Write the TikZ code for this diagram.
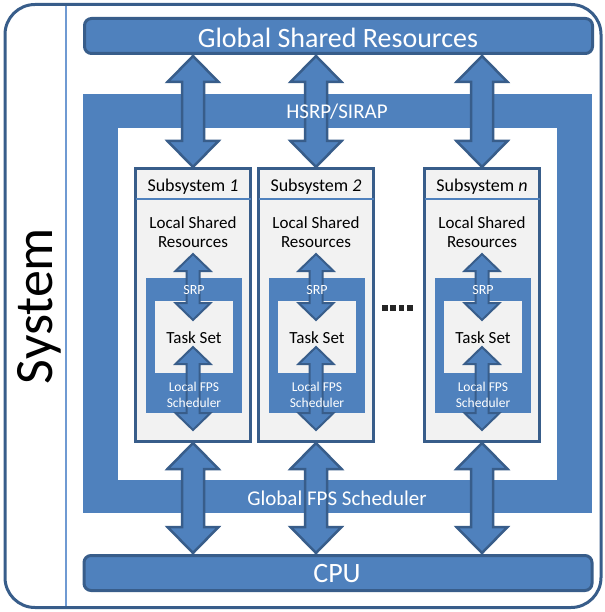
\documentclass[tikz,border=0pt]{standalone}
\usepackage{fontspec}
\setmainfont{Carlito}
\usetikzlibrary{calc}

\definecolor{boxblue}{HTML}{4F81BD}
\definecolor{edgeblue}{HTML}{385D8A}
\definecolor{panel}{HTML}{F2F2F2}
\definecolor{sysrule}{HTML}{6F9AD2}

\newcommand\fsz[2]{\fontsize{#1pt}{#2pt}\selectfont}

\tikzset{
  bar/.style={draw=edgeblue, line width=3pt, fill=boxblue, rounded corners=7pt,
    inner sep=0pt, minimum width=508pt, minimum height=35pt},
  band/.style={fill=boxblue, draw=none, inner sep=0pt},
  hole/.style={fill=white, draw=none, inner sep=0pt},
  subbox/.style={draw=edgeblue, line width=3pt, fill=panel, inner sep=0pt,
    minimum width=115pt, minimum height=273pt},
  tasks/.style={fill=panel, draw=none, inner sep=0pt, minimum width=78pt, minimum height=72pt},
  srpband/.style={band, minimum width=96pt, minimum height=135pt},
  headrule/.style={draw=boxblue, line width=1.5pt},
  bigarrow/.style={draw=edgeblue, fill=boxblue, line width=2.5pt, line join=miter},
  smallarrow/.style={draw=edgeblue, fill=boxblue, line width=2pt, line join=miter},
  wlabel/.style={text=white, inner sep=0pt},
  dlabel/.style={text=black, inner sep=0pt},
}

% two-headed block arrow between an upper and a lower tip
% #1 upper tip, #2 lower tip, #3 half shaft, #4 half head, #5 head length, #6 style
\newcommand\twoway[6]{%
  \path[#6] let \p1=(#1), \p2=(#2) in
    (\x1,\y1) -- (\x1+#4,\y1-#5) -- (\x1+#3,\y1-#5) -- (\x1+#3,\y2+#5)
    -- (\x1+#4,\y2+#5) -- (\x1,\y2) -- (\x1-#4,\y2+#5) -- (\x1-#3,\y2+#5)
    -- (\x1-#3,\y1-#5) -- (\x1-#4,\y1-#5) -- cycle;}

\begin{document}
\begin{tikzpicture}[x=1pt,y=-1pt]
\useasboundingbox (0,0) rectangle (604,612);

% system frame
\draw[draw=edgeblue, line width=3pt, rounded corners=30pt] (5,4.5) rectangle (601,607.5);
\coordinate (railtop) at (66,6);
\coordinate (railbot) at (66,606);
\draw[draw=sysrule, line width=1.5pt] (railtop) -- (railbot);
\node[dlabel, rotate=90, anchor=base, font=\fsz{54}{60}] (sys) at (52,306) {System};

% global resources and CPU
\node[bar] (gsr) at (338.5,36) {};
\node[wlabel, font=\fsz{28}{30}] (gsrtext) at (338,38) {Global Shared Resources};
\node[bar] (cpu) at (338,573) {};
\node[wlabel, font=\fsz{28}{30}] (cputext) at (337,574) {CPU};

% HSRP/SIRAP and global scheduler frame
\node[band, minimum width=509pt, minimum height=419pt] (hsrp) at (337.5,303.5) {};
\node[hole, minimum width=439pt, minimum height=352pt] (arena) at (337.5,304) {};

% subsystems
\foreach \s/\cx/\lab in {s1/193/1, s2/316/2, sn/482/n} {
  \node[subbox] (\s) at (\cx,305) {};
  \draw[headrule] ($(\s.north west)+(1.5,32)$) -- ($(\s.north east)+(-1.5,32)$);
  \node[dlabel, font=\fsz{18}{20}] (\s-title) at (\cx,187) {Subsystem \textit{\lab}};
  \node[dlabel, font=\fsz{17}{19.5}, align=center] (\s-lsr) at (\cx,232) {Local Shared\\Resources};
  \node[srpband] (\s-srp) at (\cx+1,345.5) {};
  \node[tasks] (\s-ts) at (\cx+1,337) {};
  \coordinate (\s-a) at (\cx,254);
  \coordinate (\s-b) at (\cx,320);
  \coordinate (\s-c) at (\cx,347);
  \coordinate (\s-d) at (\cx,430);
  \twoway{\s-a}{\s-b}{6.5pt}{17.5pt}{17pt}{smallarrow}
  \twoway{\s-c}{\s-d}{6.5pt}{17.5pt}{17pt}{smallarrow}
  \node[wlabel, font=\fsz{14}{16}] (\s-srptext) at (\cx+1,290) {SRP};
  \node[dlabel, font=\fsz{17}{19}] (\s-tstext) at (\cx+1,338) {Task Set};
  \node[wlabel, font=\fsz{13.5}{16}, align=center] (\s-lfps) at (\cx+1,395) {Local FPS\\Scheduler};
  % links to the global resources and to the CPU
  \coordinate (\s-up) at ($(\s.north |- gsr.south)+(0,1)$);
  \coordinate (\s-dn) at ($(\s.south |- cpu.north)+(0,-1)$);
  \twoway{\s-up}{\s.north}{11pt}{25.5pt}{26pt}{bigarrow}
  \twoway{\s.south}{\s-dn}{11pt}{25.5pt}{26pt}{bigarrow}
}

\node[wlabel, font=\fsz{21}{24}] (hsrptext) at (337,112) {HSRP/SIRAP};
\node[wlabel, font=\fsz{21}{24}] (gfps) at (337,498) {Global FPS Scheduler};

% ellipsis between subsystem 2 and n
\foreach \i in {0,1,2,3}
  \fill[black!85] (382+\i*8.4,305) rectangle ++(5.6,5.6);
\end{tikzpicture}
\end{document}
